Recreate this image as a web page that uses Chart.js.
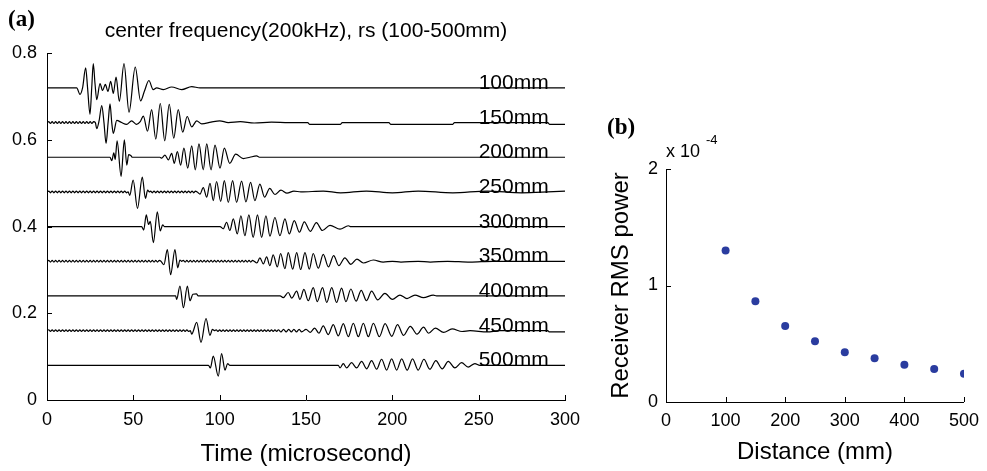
<!DOCTYPE html>
<html><head><meta charset="utf-8">
<script src="https://cdn.jsdelivr.net/npm/chart.js@4/dist/chart.umd.min.js"></script>
<style>
html,body{margin:0;padding:0;background:#fff;width:987px;height:471px;overflow:hidden;font-family:"Liberation Sans",Arial,sans-serif;color:#000}
canvas{position:absolute}
#ca{left:0;top:0}
#cb{left:590px;top:100px}
.pl{position:absolute;font-family:"Liberation Serif","Times New Roman",serif;font-weight:bold;font-size:23px;line-height:23px}
.tx{position:absolute;font-family:"Liberation Sans",Arial,sans-serif;white-space:nowrap}
</style></head><body>
<canvas id="ca" width="600" height="471"></canvas>
<canvas id="cb" width="397" height="371"></canvas>
<div class="pl" style="left:8px;top:7px">(a)</div>
<div class="pl" style="left:607px;top:115px">(b)</div>
<div class="tx" style="left:666px;top:141px;font-size:18px;line-height:20px">x 10</div>
<div class="tx" style="left:706px;top:133px;font-size:13px;line-height:14px">-4</div>
<script>
// ---------- panel (a) data ----------
const chartTitleA = 'center frequency(200kHz), rs (100-500mm)';
const traceLabels = ['100mm','150mm','200mm','250mm','300mm','350mm','400mm','450mm','500mm'];
const traceOffsets = [0.72,0.64,0.56,0.48,0.40,0.32,0.24,0.16,0.08];
const xTicksA = [0,50,100,150,200,250,300];
const yTicksA = [0,0.2,0.4,0.6,0.8];
const labelTime = 250;

// each trace: [time (microsecond), deviation from its offset]
const w100 = [[0,0],[17.2,0],[19.1,-.015],[20.6,0],[22.4,.046],[23.5,0],[24.9,-.061],[25.9,0],[26.8,.056],[27.8,.01],[28.8,-.027],[30.7,.01],[32.2,-.006],[33.8,.008],[35.3,-.008],[36.9,.015],[38.4,-.013],[40,.025],[41.9,-.031],[44.6,.056],[47.5,-.056],[51.1,.048],[54.2,-.03],[56.4,-.008],[59,.017],[61.5,-.004],[63.5,0],[67.4,-.004],[72.2,.002],[78,-.004],[83.8,.003],[88.6,0],[300,0]];

const w150 = [[0,0],[1,.002],[2,-.002],[3,.002],[4,-.002],[5,.002],[6,-.002],[7,.002],[8,-.002],[9,.002],[10,-.002],[11,.002],[12,-.002],[13,.002],[14,-.002],[15,.002],[16,-.002],[17,.002],[18,-.002],[19,.002],[20,-.002],[21,.002],[22,-.002],[23,.002],[24,-.002],[25,.002],[26,-.002],[27,.002],[28,0],[28.8,-.014],[30.2,.005],[31.7,.039],[33,0],[34.2,-.048],[35.4,0],[36.5,.043],[37.5,0],[38.4,-.025],[40.4,.005],[43.2,0],[46.1,-.004],[49,.004],[51.9,-.004],[54,.002],[55.8,.015],[58.2,-.02],[60.6,.03],[63,-.038],[65.6,.044],[68.2,-.042],[70.8,.042],[73.4,-.036],[76,.03],[78.6,-.022],[81.2,.014],[83.8,-.01],[86.7,.004],[89.6,-.003],[95,.001],[100,.004],[105,0],[112,.002],[120,-.001],[130,.001],[140,0],[151,0],[152,-.004],[170,-.004],[171,0],[198,0],[199,-.004],[235,-.004],[236,0],[290,0],[291,-.004],[300,-.004]];

const w200 = [[0,0],[36.5,0],[37.5,-.008],[38.7,.01],[39.5,-.005],[40.6,.038],[42.9,-.044],[44.8,.04],[46.2,-.018],[47.3,.006],[48.5,.004],[49.5,0],[65.4,0],[66.4,-.002],[68.3,.005],[70.3,-.006],[72.2,.009],[73.7,-.014],[75.5,.013],[77.4,-.018],[79.3,.021],[81.5,-.025],[83.8,.026],[85.9,-.029],[88,.031],[90.5,-.029],[92.5,.031],[95,-.029],[97.3,.028],[100.2,-.025],[102.7,.021],[105.8,-.014],[109.3,.007],[113.7,-.003],[117.5,0],[121.4,.003],[123,0],[300,0]];

const w250 = [[0,0],[1,.002],[2,-.002],[3,.002],[4,-.002],[5,.002],[6,-.002],[7,.002],[8,-.002],[9,.002],[10,-.002],[11,.002],[12,-.002],[13,.002],[14,-.002],[15,.002],[16,-.002],[17,.002],[18,-.002],[19,.002],[20,-.002],[21,.002],[22,-.002],[23,.002],[24,-.002],[25,.002],[26,-.002],[27,.002],[28,-.002],[29,.002],[30,-.002],[31,.002],[32,-.002],[33,.002],[34,-.002],[35,.002],[36,-.002],[37,.002],[38,-.002],[39,.002],[40,-.002],[41,.002],[42,-.002],[43,.002],[44,-.002],[45,.002],[46,-.002],[47,0],[47.9,-.008],[49.9,.027],[52.4,-.038],[55.2,.034],[57,-.015],[58.3,.004],[59.3,0],[60,.002],[61,-.002],[62,.002],[63,-.002],[64,.002],[65,-.002],[66,.002],[67,-.002],[68,.002],[69,-.002],[70,.002],[71,-.002],[72,.002],[73,-.002],[74,.002],[75,-.002],[76,.002],[77,-.002],[78,.002],[79,-.002],[80,.002],[81,-.002],[82,.002],[83,-.002],[84,.002],[85,-.002],[86,.002],[87,0],[88.6,-.005],[90.5,.01],[92.5,-.012],[94.4,.02],[96.3,-.02],[98.2,.024],[100.6,-.022],[102.7,.026],[105,-.024],[107.5,.026],[109.8,-.024],[112.7,.025],[115.2,-.023],[117.9,.022],[120.4,-.02],[123.3,.018],[126,-.012],[129,.008],[132,-.006],[135.5,.004],[139,-.003],[143,.002],[147,0],[160,.002],[170,-.002],[185,.002],[200,-.002],[215,.002],[235,-.002],[255,.002],[275,-.002],[290,0],[300,.002]];

const w300 = [[0,0],[54.8,0],[56,-.008],[57.5,.027],[58.8,.005],[59.8,.012],[61.6,-.037],[63.9,.034],[65.6,-.01],[67,.004],[68,0],[100.2,0],[102.1,-.005],[104,.01],[105.9,-.009],[107.9,.018],[110.2,-.017],[112.3,.025],[114.6,-.021],[116.9,.027],[119.4,-.025],[121.9,.027],[124.3,-.025],[126.8,.025],[129.1,-.022],[132,.021],[134.9,-.021],[137.8,.018],[140.3,-.017],[143.2,.014],[146.2,-.013],[149,.011],[152.5,-.011],[156,.009],[159.5,-.009],[163.9,.003],[169.7,-.006],[174.5,.002],[176,0],[300,0]];

const w350 = [[0,0],[1,.002],[2,-.002],[3,.002],[4,-.002],[5,.002],[6,-.002],[7,.002],[8,-.002],[9,.002],[10,-.002],[11,.002],[12,-.002],[13,.002],[14,-.002],[15,.002],[16,-.002],[17,.002],[18,-.002],[19,.002],[20,-.002],[21,.002],[22,-.002],[23,.002],[24,-.002],[25,.002],[26,-.002],[27,.002],[28,-.002],[29,.002],[30,-.002],[31,.002],[32,-.002],[33,.002],[34,-.002],[35,.002],[36,-.002],[37,.002],[38,-.002],[39,.002],[40,-.002],[41,.002],[42,-.002],[43,.002],[44,-.002],[45,.002],[46,-.002],[47,.002],[48,-.002],[49,.002],[50,-.002],[51,.002],[52,-.002],[53,.002],[54,-.002],[55,.002],[56,-.002],[57,.002],[58,-.002],[59,.002],[60,-.002],[61,.002],[62,-.002],[63,.002],[64,-.002],[65,.002],[66,0],[67.7,-.008],[69.7,.027],[71.6,-.031],[74.1,.027],[75.7,-.015],[77,.003],[78,0],[79,.002],[80,-.002],[81,.002],[82,-.002],[83,.002],[84,-.002],[85,.002],[86,-.002],[87,.002],[88,-.002],[89,.002],[90,-.002],[91,.002],[92,-.002],[93,.002],[94,-.002],[95,.002],[96,-.002],[97,.002],[98,-.002],[99,.002],[100,-.002],[101,.002],[102,-.002],[103,.002],[104,-.002],[105,.002],[106,-.002],[107,.002],[108,-.002],[109,.002],[110,-.002],[111,.002],[112,-.002],[113,.002],[114,-.002],[115,.002],[116,-.002],[117,.002],[118,-.002],[119,.002],[120,0],[121.5,-.004],[123.3,.008],[125.3,-.006],[127.2,.01],[129.1,-.01],[131,.015],[133.4,-.013],[135.3,.018],[137.8,-.017],[139.7,.02],[142.3,-.018],[144.6,.02],[146.9,-.019],[149.4,.02],[151.9,-.018],[154.2,.018],[157.1,-.016],[160,.016],[163,-.013],[166,.013],[169,-.01],[172.5,.008],[176,-.007],[179.5,.005],[183.2,-.004],[189,.003],[194.7,-.002],[200,0],[205,-.002],[215,0],[222,-.002],[232,0],[245,-.002],[258,0],[300,0]];

const w400 = [[0,0],[74.5,0],[75.1,-.008],[77,.023],[79,-.027],[81.3,.023],[82.8,-.011],[84.5,.004],[86.5,.005],[87.6,0],[135,0],[136.8,-.004],[139.7,.008],[141.7,-.005],[144.6,.011],[146.5,-.008],[148.8,.015],[151.3,-.011],[154.2,.019],[156.5,-.013],[159.6,.019],[162,-.015],[164.9,.019],[167.7,-.015],[170.6,.018],[173.1,-.013],[176,.016],[179,-.012],[182,.013],[185,-.011],[188,.011],[191.5,-.009],[195.7,.006],[200,-.008],[204.4,.002],[208.5,-.006],[213.1,.002],[218,-.004],[223.7,.002],[225.6,0],[300,0]];

const w450 = [[0,0],[1,.002],[2,-.002],[3,.002],[4,-.002],[5,.002],[6,-.002],[7,.002],[8,-.002],[9,.002],[10,-.002],[11,.002],[12,-.002],[13,.002],[14,-.002],[15,.002],[16,-.002],[17,.002],[18,-.002],[19,.002],[20,-.002],[21,.002],[22,-.002],[23,.002],[24,-.002],[25,.002],[26,-.002],[27,.002],[28,-.002],[29,.002],[30,-.002],[31,.002],[32,-.002],[33,.002],[34,-.002],[35,.002],[36,-.002],[37,.002],[38,-.002],[39,.002],[40,-.002],[41,.002],[42,-.002],[43,.002],[44,-.002],[45,.002],[46,-.002],[47,.002],[48,-.002],[49,.002],[50,-.002],[51,.002],[52,-.002],[53,.002],[54,-.002],[55,.002],[56,-.002],[57,.002],[58,-.002],[59,.002],[60,-.002],[61,.002],[62,-.002],[63,.002],[64,-.002],[65,.002],[66,-.002],[67,.002],[68,-.002],[69,.002],[70,-.002],[71,.002],[72,-.002],[73,.002],[74,-.002],[75,.002],[76,-.002],[77,.002],[78,-.002],[79,.002],[80,-.002],[81,.002],[82,-.002],[83,0],[83.8,-.008],[86.7,.019],[89.2,-.027],[92.1,.028],[94.4,-.011],[95.8,.003],[97,0],[98,.002],[99,-.002],[100,.002],[101,-.002],[102,.002],[103,-.002],[104,.002],[105,-.002],[106,.002],[107,-.002],[108,.002],[109,-.002],[110,.002],[111,-.002],[112,.002],[113,-.002],[114,.002],[115,-.002],[116,.002],[117,-.002],[118,.002],[119,-.002],[120,.002],[121,-.002],[122,.002],[123,-.002],[124,.002],[125,-.002],[126,.002],[127,-.002],[128,.002],[129,-.002],[130,.002],[131,-.002],[132,.002],[133,-.002],[134,.002],[135.5,-.003],[137,.003],[138.5,-.003],[140,.003],[141.5,-.003],[143,.003],[144.5,-.003],[146,.003],[147.5,-.003],[150,.003],[152.5,-.004],[155,.006],[157.5,-.006],[160,.011],[162.9,-.009],[165.8,.014],[168.7,-.012],[171.6,.016],[174.5,-.014],[177.4,.017],[180.3,-.014],[183.2,.017],[186.1,-.014],[189,.017],[192.5,-.014],[195.8,.016],[199.7,-.013],[203,.014],[206.5,-.011],[210.4,.01],[214.3,-.008],[218.1,.008],[221,-.006],[224.9,.006],[229.7,-.004],[234.6,.004],[240.4,-.002],[245,0],[255,-.003],[262,0],[290,0],[291,-.003],[300,-.003]];

const w500 = [[0,0],[93.5,0],[94.6,-.006],[96.3,.021],[99.2,-.025],[101.1,.027],[103.1,-.011],[104.6,.004],[105.8,0],[168.7,0],[169.7,-.006],[171.6,.004],[173.5,-.006],[176.4,.006],[179.3,-.006],[182.2,.009],[185.1,-.008],[188,.011],[190.9,-.009],[193.8,.014],[196.7,-.011],[199.6,.015],[202.5,-.011],[205.4,.015],[208.6,-.011],[211.7,.015],[215,-.011],[218.3,.014],[221.7,-.009],[225.2,.011],[228.9,-.008],[232.4,.009],[236.2,-.006],[240.1,.006],[243.9,-.004],[247.8,.004],[250.7,0],[300,0]];

const traces = [w100,w150,w200,w250,w300,w350,w400,w450,w500];

// ---------- panel (b) data ----------
const distances = [100,150,200,250,300,350,400,450,500];
const rmsPower = [1.30e-4,0.864e-4,0.652e-4,0.521e-4,0.427e-4,0.375e-4,0.320e-4,0.283e-4,0.243e-4];
const xTicksB = [0,100,200,300,400,500];
const yTicksB = [0,1e-4,2e-4];
const xTitleB = 'Distance (mm)';
const yTitleB = 'Receiver RMS power';
const xTitleA = 'Time (microsecond)';

// ---------- helpers ----------
const FONT = '"Liberation Sans", Arial, sans-serif';
const inwardTicks = {
  id: 'inwardTicks',
  afterDatasetsDraw(chart) {
    const {ctx, chartArea: a, scales: {x, y}} = chart;
    ctx.save();
    ctx.strokeStyle = '#000';
    ctx.lineWidth = 1;
    ctx.beginPath();
    x.ticks.forEach(t => {
      const px = Math.round(x.getPixelForValue(t.value)) + 0.5;
      ctx.moveTo(px, a.bottom); ctx.lineTo(px, a.bottom - 5);
    });
    y.ticks.forEach(t => {
      const py = Math.round(y.getPixelForValue(t.value)) + 0.5;
      ctx.moveTo(a.left, py); ctx.lineTo(a.left + 5, py);
    });
    ctx.stroke();
    ctx.restore();
  }
};
const traceLabelPlugin = {
  id: 'traceLabels',
  afterDatasetsDraw(chart) {
    const {ctx, scales: {x, y}} = chart;
    ctx.save();
    ctx.fillStyle = '#000';
    ctx.font = '21px ' + FONT;
    ctx.textAlign = 'left';
    ctx.textBaseline = 'alphabetic';
    traceLabels.forEach((lab, i) => {
      ctx.fillText(lab, x.getPixelForValue(labelTime), y.getPixelForValue(traceOffsets[i]) + 1);
    });
    ctx.restore();
  }
};

// ---------- chart (a) ----------
new Chart(document.getElementById('ca'), {
  type: 'line',
  data: {
    datasets: traces.map((tr, i) => ({
      label: traceLabels[i],
      data: tr.map(p => ({x: p[0], y: traceOffsets[i] + p[1]})),
      borderColor: '#000',
      borderWidth: 1.2,
      pointRadius: 0,
      cubicInterpolationMode: 'monotone',
      fill: false,
      borderJoinStyle: 'round'
    }))
  },
  options: {
    responsive: false,
    animation: false,
    events: [],
    layout: {padding: {left: 0, right: 35, top: 0, bottom: 0}},
    plugins: {
      legend: {display: false},
      tooltip: {enabled: false},
      title: {
        display: true, text: chartTitleA, fullSize: false,
        color: '#000', font: {family: FONT, size: 21, weight: 'normal'},
        padding: {top: 19, bottom: 9}
      }
    },
    scales: {
      x: {
        type: 'linear', min: 0, max: 300,
        afterBuildTicks: s => { s.ticks = xTicksA.map(v => ({value: v})); },
        afterFit: s => { s.height = 71; },
        grid: {display: false, drawTicks: false},
        border: {display: true, color: '#000', width: 1},
        ticks: {color: '#000', font: {family: FONT, size: 18}, padding: 9, maxRotation: 0, autoSkip: false},
        title: {display: true, text: xTitleA, color: '#000', font: {family: FONT, size: 24}, padding: {top: 0, bottom: 2}}
      },
      y: {
        type: 'linear', min: 0, max: 0.8,
        afterBuildTicks: s => { s.ticks = yTicksA.map(v => ({value: v})); },
        afterFit: s => { s.width = 47; },
        grid: {display: false, drawTicks: false},
        border: {display: true, color: '#000', width: 1},
        ticks: {color: '#000', font: {family: FONT, size: 18}, padding: 10, callback: v => String(Math.round(v * 10) / 10)}
      }
    }
  },
  plugins: [inwardTicks, traceLabelPlugin]
});

// ---------- chart (b) ----------
new Chart(document.getElementById('cb'), {
  type: 'scatter',
  data: {
    datasets: [{
      label: 'RMS power',
      data: distances.map((d, i) => ({x: d, y: rmsPower[i]})),
      backgroundColor: '#2a3c9f',
      borderColor: '#2a3c9f',
      pointRadius: 4,
      borderWidth: 0
    }]
  },
  options: {
    responsive: false,
    animation: false,
    events: [],
    layout: {padding: {left: 0, right: 17, top: 69, bottom: 0}},
    plugins: {legend: {display: false}, tooltip: {enabled: false}},
    scales: {
      x: {
        type: 'linear', min: 0, max: 500,
        afterBuildTicks: s => { s.ticks = xTicksB.map(v => ({value: v})); },
        afterFit: s => { s.height = 69; },
        grid: {display: false, drawTicks: false},
        border: {display: true, color: '#000', width: 1},
        ticks: {color: '#000', font: {family: FONT, size: 18}, padding: 8, maxRotation: 0, autoSkip: false},
        title: {display: true, text: xTitleB, color: '#000', font: {family: FONT, size: 24}, padding: {top: 0, bottom: 4}}
      },
      y: {
        type: 'linear', min: 0, max: 2e-4,
        afterBuildTicks: s => { s.ticks = yTicksB.map(v => ({value: v})); },
        afterFit: s => { s.width = 76; },
        grid: {display: false, drawTicks: false},
        border: {display: true, color: '#000', width: 1},
        ticks: {color: '#000', font: {family: FONT, size: 18}, padding: 8, callback: v => String(Math.round(v * 1e4))},
        title: {display: true, text: yTitleB, color: '#000', font: {family: FONT, size: 24}, padding: {top: 17, bottom: 0}}
      }
    }
  },
  plugins: [inwardTicks]
});
</script>
</body></html>
